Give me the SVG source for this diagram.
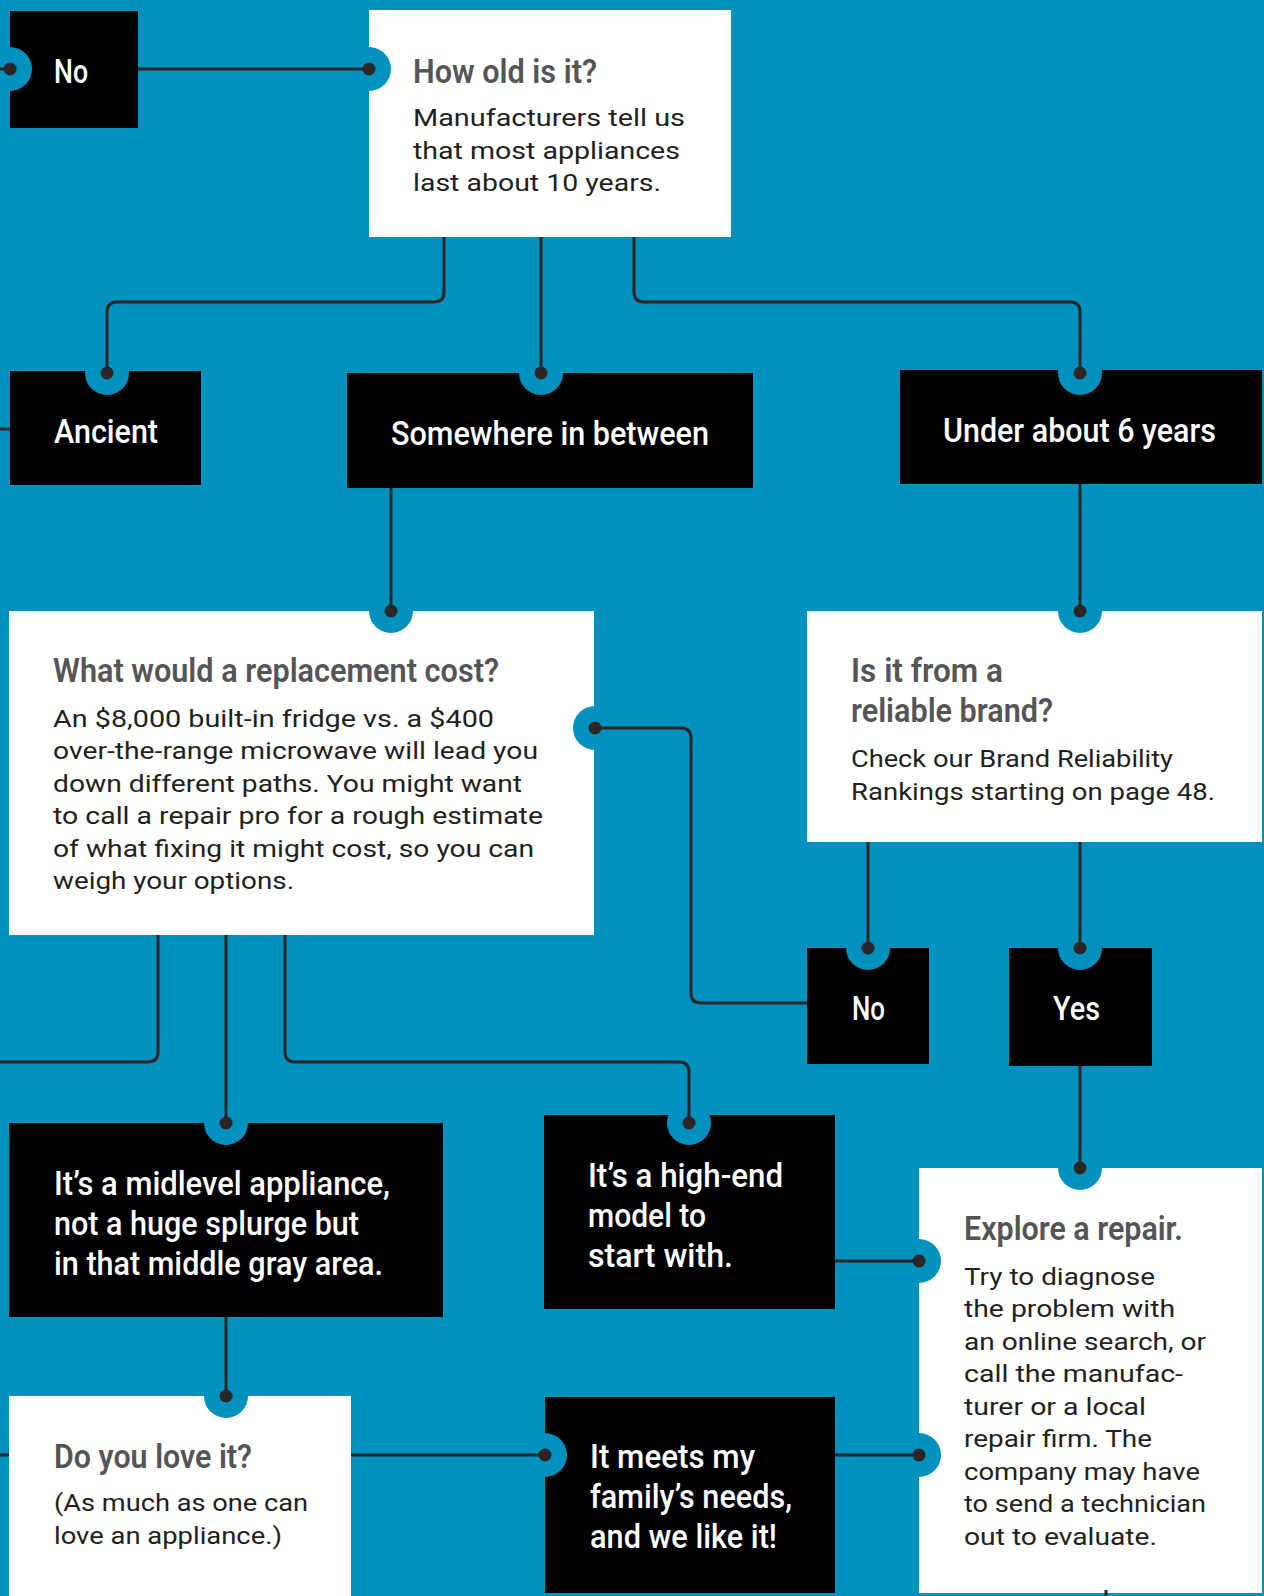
<svg xmlns="http://www.w3.org/2000/svg" width="1264" height="1596" viewBox="0 0 1264 1596">
<style>
.bk{fill:#000}
.wh{fill:#fff}
.notch{fill:#0091bf}
.dot{fill:#2b2526}
.ln{fill:none;stroke:#2b2526;stroke-width:3}
.tt{font-family:Roboto,"Liberation Sans",sans-serif;font-weight:600;font-size:34px;fill:#555557}
.bd{font-family:Roboto,"Liberation Sans",sans-serif;font-weight:400;font-size:24px;fill:#231f20}
.wt{font-family:Roboto,"Liberation Sans",sans-serif;font-weight:500;font-size:34px;fill:#fff}
</style>
<rect x="0" y="0" width="1264" height="1596" fill="#0091bf"/>

<g id="node-no-top">
<rect class="bk" x="10" y="11" width="128" height="117"/>
<circle class="notch" cx="10" cy="69" r="22"/>
<text class="wt" x="54" y="83" textLength="34" lengthAdjust="spacingAndGlyphs">No</text>
</g>

<g id="node-how-old">
<rect class="wh" x="369" y="10" width="362" height="227"/>
<circle class="notch" cx="369" cy="69" r="22"/>
<text class="tt" x="413" y="83" textLength="184" lengthAdjust="spacingAndGlyphs">How old is it?</text>
<text class="bd" x="413" y="126" textLength="272" lengthAdjust="spacingAndGlyphs">Manufacturers tell us</text>
<text class="bd" x="413" y="159" textLength="267" lengthAdjust="spacingAndGlyphs">that most appliances</text>
<text class="bd" x="413" y="191" textLength="248" lengthAdjust="spacingAndGlyphs">last about 10 years.</text>
</g>

<g id="node-ancient">
<rect class="bk" x="10" y="371" width="191" height="114"/>
<circle class="notch" cx="107" cy="373" r="22"/>
<text class="wt" x="54" y="443" textLength="104" lengthAdjust="spacingAndGlyphs">Ancient</text>
</g>

<g id="node-between">
<rect class="bk" x="347" y="373" width="406" height="115"/>
<circle class="notch" cx="541" cy="373" r="22"/>
<text class="wt" x="391" y="445" textLength="318" lengthAdjust="spacingAndGlyphs">Somewhere in between</text>
</g>

<g id="node-under6">
<rect class="bk" x="900" y="370" width="362" height="114"/>
<circle class="notch" cx="1080" cy="373" r="22"/>
<text class="wt" x="943" y="442" textLength="273" lengthAdjust="spacingAndGlyphs">Under about 6 years</text>
</g>

<g id="node-replacement">
<rect class="wh" x="9" y="611" width="585" height="324"/>
<circle class="notch" cx="391" cy="611" r="22"/>
<circle class="notch" cx="595" cy="728" r="22"/>
<text class="tt" x="53" y="682" textLength="446" lengthAdjust="spacingAndGlyphs">What would a replacement cost?</text>
<text class="bd" x="53" y="727" textLength="441" lengthAdjust="spacingAndGlyphs">An $8,000 built-in fridge vs. a $400</text>
<text class="bd" x="53" y="759" textLength="485" lengthAdjust="spacingAndGlyphs">over-the-range microwave will lead you</text>
<text class="bd" x="53" y="792" textLength="469" lengthAdjust="spacingAndGlyphs">down different paths. You might want</text>
<text class="bd" x="53" y="824" textLength="490" lengthAdjust="spacingAndGlyphs">to call a repair pro for a rough estimate</text>
<text class="bd" x="53" y="857" textLength="481" lengthAdjust="spacingAndGlyphs">of what fixing it might cost, so you can</text>
<text class="bd" x="53" y="889" textLength="241" lengthAdjust="spacingAndGlyphs">weigh your options.</text>
</g>

<g id="node-brand">
<rect class="wh" x="807" y="611" width="455" height="231"/>
<circle class="notch" cx="1080" cy="611" r="22"/>
<text class="tt" x="851" y="682" textLength="152" lengthAdjust="spacingAndGlyphs">Is it from a</text>
<text class="tt" x="851" y="722" textLength="202" lengthAdjust="spacingAndGlyphs">reliable brand?</text>
<text class="bd" x="851" y="767" textLength="322" lengthAdjust="spacingAndGlyphs">Check our Brand Reliability</text>
<text class="bd" x="851" y="800" textLength="364" lengthAdjust="spacingAndGlyphs">Rankings starting on page 48.</text>
</g>

<g id="node-no-brand">
<rect class="bk" x="807" y="948" width="122" height="116"/>
<circle class="notch" cx="868" cy="948" r="22"/>
<text class="wt" x="852" y="1020" textLength="33" lengthAdjust="spacingAndGlyphs">No</text>
</g>

<g id="node-yes">
<rect class="bk" x="1009" y="948" width="143" height="118"/>
<circle class="notch" cx="1080" cy="948" r="22"/>
<text class="wt" x="1053" y="1020" textLength="47" lengthAdjust="spacingAndGlyphs">Yes</text>
</g>

<g id="node-midlevel">
<rect class="bk" x="9" y="1123" width="434" height="194"/>
<circle class="notch" cx="226" cy="1123" r="22"/>
<text class="wt" x="54" y="1195" textLength="336" lengthAdjust="spacingAndGlyphs">It’s a midlevel appliance,</text>
<text class="wt" x="54" y="1235" textLength="305" lengthAdjust="spacingAndGlyphs">not a huge splurge but</text>
<text class="wt" x="54" y="1275" textLength="329" lengthAdjust="spacingAndGlyphs">in that middle gray area.</text>
</g>

<g id="node-highend">
<rect class="bk" x="544" y="1115" width="291" height="194"/>
<circle class="notch" cx="689" cy="1123" r="22"/>
<text class="wt" x="588" y="1187" textLength="195" lengthAdjust="spacingAndGlyphs">It’s a high-end</text>
<text class="wt" x="588" y="1227" textLength="118" lengthAdjust="spacingAndGlyphs">model to</text>
<text class="wt" x="588" y="1267" textLength="145" lengthAdjust="spacingAndGlyphs">start with.</text>
</g>

<g id="node-explore">
<rect class="wh" x="919" y="1168" width="343" height="425"/>
<circle class="notch" cx="1080" cy="1168" r="22"/>
<circle class="notch" cx="919" cy="1261" r="22"/>
<circle class="notch" cx="919" cy="1455" r="22"/>
<text class="tt" x="964" y="1240" textLength="219" lengthAdjust="spacingAndGlyphs">Explore a repair.</text>
<text class="bd" x="964" y="1285" textLength="191" lengthAdjust="spacingAndGlyphs">Try to diagnose</text>
<text class="bd" x="964" y="1317" textLength="211" lengthAdjust="spacingAndGlyphs">the problem with</text>
<text class="bd" x="964" y="1350" textLength="242" lengthAdjust="spacingAndGlyphs">an online search, or</text>
<text class="bd" x="964" y="1382" textLength="219" lengthAdjust="spacingAndGlyphs">call the manufac-</text>
<text class="bd" x="964" y="1415" textLength="182" lengthAdjust="spacingAndGlyphs">turer or a local</text>
<text class="bd" x="964" y="1447" textLength="188" lengthAdjust="spacingAndGlyphs">repair firm. The</text>
<text class="bd" x="964" y="1480" textLength="236" lengthAdjust="spacingAndGlyphs">company may have</text>
<text class="bd" x="964" y="1512" textLength="242" lengthAdjust="spacingAndGlyphs">to send a technician</text>
<text class="bd" x="964" y="1545" textLength="193" lengthAdjust="spacingAndGlyphs">out to evaluate.</text>
</g>

<g id="node-love">
<rect class="wh" x="9" y="1396" width="342" height="200"/>
<circle class="notch" cx="226" cy="1396" r="22"/>
<text class="tt" x="54" y="1468" textLength="198" lengthAdjust="spacingAndGlyphs">Do you love it?</text>
<text class="bd" x="54" y="1511" textLength="254" lengthAdjust="spacingAndGlyphs">(As much as one can</text>
<text class="bd" x="54" y="1544" textLength="228" lengthAdjust="spacingAndGlyphs">love an appliance.)</text>
</g>

<g id="node-meets">
<rect class="bk" x="545" y="1397" width="290" height="196"/>
<circle class="notch" cx="545" cy="1455" r="22"/>
<text class="wt" x="590" y="1468" textLength="165" lengthAdjust="spacingAndGlyphs">It meets my</text>
<text class="wt" x="590" y="1508" textLength="202" lengthAdjust="spacingAndGlyphs">family’s needs,</text>
<text class="wt" x="590" y="1548" textLength="187" lengthAdjust="spacingAndGlyphs">and we like it!</text>
</g>

<g id="connectors">
<path class="ln" d="M0,69 H10"/>
<path class="ln" d="M138,69 H369"/>
<path class="ln" d="M444,237 V292 Q444,302 434,302 H117 Q107,302 107,312 V373"/>
<path class="ln" d="M541,237 V373"/>
<path class="ln" d="M634,237 V292 Q634,302 644,302 H1070 Q1080,302 1080,312 V373"/>
<path class="ln" d="M0,429 H10"/>
<path class="ln" d="M391,488 V611"/>
<path class="ln" d="M1080,484 V611"/>
<path class="ln" d="M595,728 H681 Q691,728 691,738 V993 Q691,1003 701,1003 H807"/>
<path class="ln" d="M868,842 V948"/>
<path class="ln" d="M1080,842 V948"/>
<path class="ln" d="M1080,1066 V1168"/>
<path class="ln" d="M158,935 V1052 Q158,1062 148,1062 H0"/>
<path class="ln" d="M226,935 V1123"/>
<path class="ln" d="M285,935 V1052 Q285,1062 295,1062 H679 Q689,1062 689,1072 V1123"/>
<path class="ln" d="M835,1261 H919"/>
<path class="ln" d="M226,1317 V1396"/>
<path class="ln" d="M0,1455 H9"/>
<path class="ln" d="M351,1455 H545"/>
<path class="ln" d="M835,1455 H919"/>
<path class="ln" d="M1106,1590 V1596"/>
<circle class="dot" cx="10" cy="69" r="6.5"/>
<circle class="dot" cx="369" cy="69" r="6.5"/>
<circle class="dot" cx="107" cy="373" r="6.5"/>
<circle class="dot" cx="541" cy="373" r="6.5"/>
<circle class="dot" cx="1080" cy="373" r="6.5"/>
<circle class="dot" cx="391" cy="611" r="6.5"/>
<circle class="dot" cx="1080" cy="611" r="6.5"/>
<circle class="dot" cx="595" cy="728" r="6.5"/>
<circle class="dot" cx="868" cy="948" r="6.5"/>
<circle class="dot" cx="1080" cy="948" r="6.5"/>
<circle class="dot" cx="226" cy="1123" r="6.5"/>
<circle class="dot" cx="689" cy="1123" r="6.5"/>
<circle class="dot" cx="1080" cy="1168" r="6.5"/>
<circle class="dot" cx="919" cy="1261" r="6.5"/>
<circle class="dot" cx="226" cy="1396" r="6.5"/>
<circle class="dot" cx="545" cy="1455" r="6.5"/>
<circle class="dot" cx="919" cy="1455" r="6.5"/>
</g>
</svg>
